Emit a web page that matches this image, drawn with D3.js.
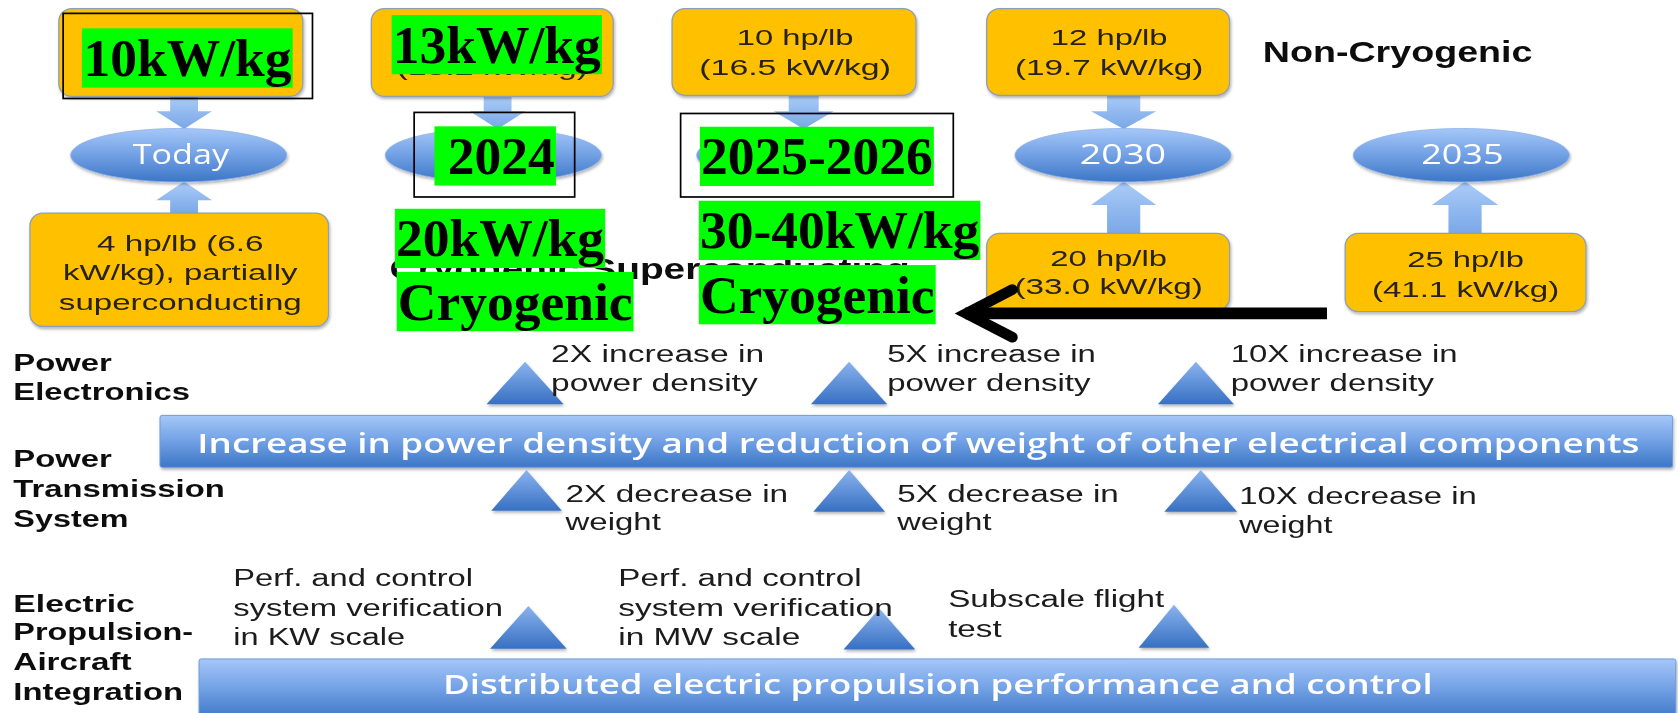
<!DOCTYPE html>
<html><head><meta charset="utf-8">
<script src="https://cdn.jsdelivr.net/npm/d3@7"></script>
<style>html,body{margin:0;padding:0;background:#fff;overflow:hidden}svg{display:block}</style>
</head><body>
<svg id="chart"></svg>
<script>
// ---------------- DATA ----------------
const milestones = ["Today", "2024", "2025-2026", "2030", "2035"];
const ellipseLabels = ["Today", "", "", "2030", "2035"];
const nonCryoSpecs = [[], ["8 hp/lb", "(13.2 kW/kg)"], ["10 hp/lb", "(16.5 kW/kg)"], ["12 hp/lb", "(19.7 kW/kg)"], []];
const cryoSpecs = [["4 hp/lb (6.6", "kW/kg), partially", "superconducting"], [], [], ["20 hp/lb", "(33.0 kW/kg)"], ["25 hp/lb", "(41.1 kW/kg)"]];
const sectionTitles = ["Non-Cryogenic", "Cryogenic Superconducting"];
const overlayLabels = ["10kW/kg", "13kW/kg", "2024", "20kW/kg", "Cryogenic", "2025-2026", "30-40kW/kg", "Cryogenic"];
const rowLabels = [["Power", "Electronics"], ["Power", "Transmission", "System"], ["Electric", "Propulsion-", "Aircraft", "Integration"]];
const bandLabels = ["Increase in power density and reduction of weight of other electrical components",
                    "Distributed electric propulsion performance and control"];
const powerElectronicsSteps = [["2X increase in", "power density"], ["5X increase in", "power density"], ["10X increase in", "power density"]];
const transmissionSteps = [["2X decrease in", "weight"], ["5X decrease in", "weight"], ["10X decrease in", "weight"]];
const integrationSteps = [["Perf. and control", "system verification", "in KW scale"],
                          ["Perf. and control", "system verification", "in MW scale"],
                          ["Subscale flight", "test"]];

// ---------------- LAYOUT (reference units 1568 x 666) ----------------
const W = 1678, H = 713, RW = 1568, RH = 666;
const x = d3.scaleLinear().domain([0, RW]).range([0, W]);
const y = d3.scaleLinear().domain([0, RH]).range([0, H]);
const k = W / RW;
const SANS = "'Liberation Sans', Arial, sans-serif";
const SERIF = "'Liberation Serif', 'Times New Roman', serif";
const CAL = "'Open Sans', 'Noto Sans', sans-serif";

const ellipseX = d3.scaleOrdinal().domain(milestones).range([167, 461, 752, 1049.4, 1365.5]);
const arrowX = d3.scaleOrdinal().domain(milestones).range([172, 465, 751, 1050, 1369]);
const arrowShaft = [26, 26, 28, 31, 31], arrowHead = [52, 52, 56, 61, 62];
const topBoxes = [[55, 283, 8, 90], [347, 573, 8, 90], [628, 856, 8, 89], [922, 1149, 8, 89], null];
const topTextCx = [169, 460, 743, 1036.5, null];
const topTextW = [[], [95, 179], [109, 179], [109, 176], []];
const topBase = [42, 70];
const botBoxes = [[28, 307, 199, 305], null, null, [922, 1149, 218, 290], [1257, 1482, 218, 291]];
const botTextCx = [168.5, null, null, 1036, 1369.5];
const botTextW = [[155.5, 219, 227], [], [], [109, 176], [109, 175]];
const botBase = [[234, 262, 289.5], [], [], [248, 275], [249, 277.5]];
const ellipseTextW = [90, 0, 0, 80.6, 77];
const ellipseTextCx = [169, 0, 0, 1049.3, 1366.5];

const svg = d3.select("#chart").attr("width", W).attr("height", H);
const defs = svg.append("defs");
function vgrad(id, stops) {
  const g = defs.append("linearGradient").attr("id", id).attr("x1", 0).attr("y1", 0).attr("x2", 0).attr("y2", 1);
  stops.forEach(([o, c]) => g.append("stop").attr("offset", o).attr("stop-color", c));
}
vgrad("gBlue", [[0, "#a5c7f8"], [0.45, "#76a4e7"], [1, "#3c76c6"]]);
vgrad("gTri", [[0, "#8ab3ee"], [1, "#3770c2"]]);
vgrad("gArrow", [[0, "#a6c9f7"], [1, "#72a2e6"]]);
const sh = defs.append("filter").attr("id", "shadow").attr("x", "-10%").attr("y", "-20%").attr("width", "120%").attr("height", "160%");
sh.append("feDropShadow").attr("dx", 1).attr("dy", 2).attr("stdDeviation", 1.6).attr("flood-color", "#000").attr("flood-opacity", 0.3);
const soft = defs.append("filter").attr("id", "soft").attr("x", "-2%").attr("y", "-2%").attr("width", "104%").attr("height", "104%");
soft.append("feGaussianBlur").attr("stdDeviation", 0.45);

function addText(g, str, left, base, width, size, opts = {}) {
  const t = g.append("text").attr("x", x(left)).attr("y", y(base))
    .style("font-family", opts.family || SANS).style("font-size", (size * k) + "px")
    .style("font-weight", opts.weight || 400).attr("fill", opts.fill || "#161616").text(str);
  if (width) t.attr("textLength", width * k).attr("lengthAdjust", "spacingAndGlyphs");
  return t;
}
const line = d3.line().x(p => x(p[0])).y(p => y(p[1]));
function arrowPts(cx, sw, hw, yStart, yHead, yTip) {
  return [[cx - sw / 2, yStart], [cx + sw / 2, yStart], [cx + sw / 2, yHead], [cx + hw / 2, yHead],
          [cx, yTip], [cx - hw / 2, yHead], [cx - sw / 2, yHead]];
}

const base = svg.append("g").attr("filter", "url(#soft)");

// ---- bands ----
const bands = [[149.5, 1563, 388, 436.5, 184.4, 423, 1347.6], [186, 1566, 615.5, 672, 414, 648, 924.7]];
bands.forEach((b, i) => {
  base.append("rect").attr("x", x(b[0])).attr("y", y(b[2])).attr("width", x(b[1]) - x(b[0]))
    .attr("height", y(b[3]) - y(b[2])).attr("rx", 2 * k).attr("fill", "url(#gBlue)")
    .attr("stroke", "#6f9ad8").attr("stroke-width", 1).attr("filter", "url(#shadow)");
  addText(base, bandLabels[i], b[4], b[5], b[6], 26, { family: CAL, weight: 600, fill: "#ffffff" });
});

// ---- triangles ----
const triLayout = [
  [[490.6, 36, 338, 377.5], [793.4, 35.6, 338, 377.5], [1117.5, 35.5, 338, 377.5]],
  [[492, 33, 439, 477], [793.5, 33.5, 439, 478], [1122, 34, 439, 478]],
  [[493.7, 35.8, 566, 606], [821.7, 33.5, 568.4, 606.7], [1097, 33, 565, 605]]
];
triLayout.forEach(row => row.forEach(t => {
  base.append("path").attr("d", line([[t[0], t[2]], [t[0] + t[1], t[3]], [t[0] - t[1], t[3]]]) + "Z")
    .attr("fill", "url(#gTri)").attr("filter", "url(#shadow)");
}));

// ---- step annotations ----
const stepLayouts = [
  { data: powerElectronicsSteps, pos: [[515, [338, 365.5], [199, 193]], [829, [338, 365.5], [195, 190]], [1150, [338, 365.5], [212, 190]]] },
  { data: transmissionSteps, pos: [[528.5, [469, 495], [208, 89]], [838.5, [469, 495], [207, 88]], [1158, [471, 498], [222, 87]]] },
  { data: integrationSteps, pos: [[218, [547.5, 575, 602.7], [224, 252, 160.6]], [577.8, [547.5, 575, 602.7], [227.4, 256.4, 170]], [886, [567, 595], [202, 50]]] }
];
stepLayouts.forEach(s => s.data.forEach((lines, i) => {
  const p = s.pos[i];
  lines.forEach((ln, j) => addText(base, ln, p[0], p[1][j], p[2][j], 21.5, { fill: "#1a1a1a" }));
}));

// ---- row labels ----
const rowBase = [[347, 374], [436, 464, 492], [571.5, 598, 626, 654]];
const rowW = [[92, 165], [92, 197.5, 107.5], [113.5, 168, 110.5, 158.5]];
rowLabels.forEach((lines, i) => lines.forEach((ln, j) =>
  addText(base, ln, 12.5, rowBase[i][j], rowW[i][j], 21.8, { weight: 700, fill: "#111" })));

// ---- arrows ----
milestones.forEach((m, i) => {
  const cx = arrowX(m);
  if (topBoxes[i]) base.append("path").attr("d", line(arrowPts(cx, arrowShaft[i], arrowHead[i], topBoxes[i][3] - 1, 104, 120.5)) + "Z")
    .attr("fill", "url(#gArrow)").attr("opacity", 0.95);
  if (botBoxes[i]) {
    const hh = i === 0 ? 17 : 21.6;
    base.append("path").attr("d", line(arrowPts(cx, arrowShaft[i], arrowHead[i], botBoxes[i][2] + 1, 170 + hh, 169.5)) + "Z")
      .attr("fill", "url(#gArrow)").attr("opacity", 0.95);
  }
});

// ---- ellipses ----
milestones.forEach((m, i) => {
  base.append("ellipse").attr("cx", x(ellipseX(m))).attr("cy", y(145)).attr("rx", 101 * k).attr("ry", 25 * k)
    .attr("fill", "url(#gBlue)").attr("stroke", "#8fb3ea").attr("stroke-width", 0.8).attr("filter", "url(#shadow)");
  if (ellipseLabels[i]) addText(base, ellipseLabels[i], ellipseTextCx[i] - ellipseTextW[i] / 2, 153, ellipseTextW[i], 26,
    { family: CAL, weight: 500, fill: "#ffffff" });
});

// ---- orange boxes ----
function orangeBox(b) {
  base.append("rect").attr("x", x(b[0])).attr("y", y(b[2])).attr("width", x(b[1]) - x(b[0])).attr("height", y(b[3]) - y(b[2]))
    .attr("rx", 12 * k).attr("fill", "#FFC000").attr("stroke", "#8c9fb8").attr("stroke-width", 1.3).attr("filter", "url(#shadow)");
}
milestones.forEach((m, i) => {
  if (topBoxes[i]) {
    orangeBox(topBoxes[i]);
    nonCryoSpecs[i].forEach((ln, j) => addText(base, ln, topTextCx[i] - topTextW[i][j] / 2, topBase[j], topTextW[i][j], 20.5, { fill: "#262016" }));
  }
  if (botBoxes[i]) {
    orangeBox(botBoxes[i]);
    cryoSpecs[i].forEach((ln, j) => addText(base, ln, botTextCx[i] - botTextW[i][j] / 2, botBase[i][j], botTextW[i][j], 20.5, { fill: "#262016" }));
  }
});

// ---- section titles ----
addText(base, sectionTitles[0], 1180, 57.6, 252, 28.3, { weight: 700, fill: "#111" });
addText(base, sectionTitles[1], 364, 261, 486, 28.3, { weight: 700, fill: "#111" });

// ---- overlay annotations (green highlight labels) ----
const over = svg.append("g");
const overlayPos = [[76.5, 26.5, 1.5], [366, 14, 1], [406, 118, 12.5], [369, 195, 1], [370.7, 254, 1], [654, 118.4, 1], [653, 187.5, 1], [653, 247.6, 1]];
const GFS = 50;
overlayLabels.forEach((lab, i) => {
  const p = overlayPos[i];
  const rect = over.append("rect").attr("fill", "#00FF00");
  const t = addText(over, lab, p[0] + p[2], p[1] + 0.891 * GFS, 0, GFS, { family: SERIF, weight: 700, fill: "#000" });
  const tw = t.node().getComputedTextLength() / k;
  rect.attr("x", x(p[0])).attr("y", y(p[1])).attr("width", (tw + p[2] + 1) * k).attr("height", 1.107 * GFS * k);
});

// ---- black outline boxes ----
const outlines = [[59, 292, 12.5, 92], [387, 537, 105, 184], [636, 890.8, 106, 184]];
outlines.forEach(b => over.append("rect").attr("x", x(b[0])).attr("y", y(b[2])).attr("width", x(b[1]) - x(b[0]))
  .attr("height", y(b[3]) - y(b[2])).attr("fill", "none").attr("stroke", "#000").attr("stroke-width", 1.7));

// ---- black arrow ----
over.append("path").attr("d", line([[902, 292.7], [1240, 292.7]])).attr("stroke", "#000").attr("stroke-width", 11 * k).attr("fill", "none");
over.append("path").attr("d", line([[946, 270.5], [903, 292.8], [946, 315]])).attr("stroke", "#000").attr("stroke-width", 10 * k)
  .attr("fill", "none").attr("stroke-linejoin", "miter").attr("stroke-linecap", "round").attr("stroke-miterlimit", 10);
</script>
</body></html>
